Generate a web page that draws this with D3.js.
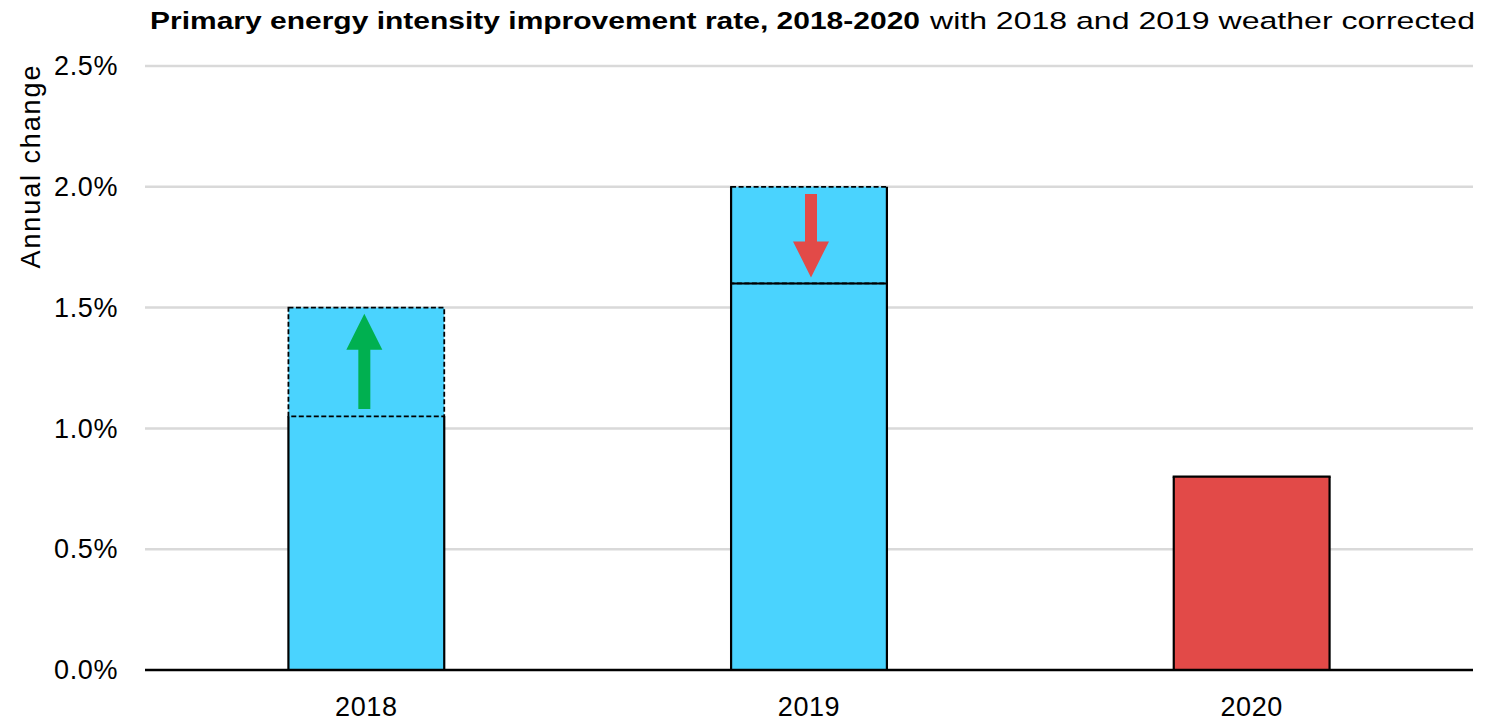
<!DOCTYPE html>
<html>
<head>
<meta charset="utf-8">
<script src="https://cdn.jsdelivr.net/npm/d3@7"></script>
<style>
  html, body { margin: 0; padding: 0; background: #fff; }
  svg { display: block; font-family: "Liberation Sans", Arial, Helvetica, sans-serif; }
</style>
</head>
<body>
<svg id="chart" width="1485" height="723"></svg>
<script>
// Annual primary energy intensity improvement (%)
const years = ["2018", "2019", "2020"];
const reportedRate = [1.05, 2.0, 0.8];        // as measured
const weatherCorrectedRate = [1.5, 1.6, null]; // 2018 and 2019 weather corrected
const barColors = ["#4AD3FE", "#4AD3FE", "#E24A48"];
const yTicks = [0, 0.5, 1.0, 1.5, 2.0, 2.5];

const W = 1485, H = 723;
const margin = { top: 66, right: 12, bottom: 53, left: 145 };

const svg = d3.select("#chart");

const x = d3.scaleBand()
  .domain(years)
  .range([margin.left, W - margin.right])
  .paddingInner(0.648)
  .paddingOuter(0.324);

const y = d3.scaleLinear()
  .domain([0, 2.5])
  .range([H - margin.bottom, margin.top]);

// gridlines
svg.append("g")
  .selectAll("line")
  .data(yTicks.filter(d => d > 0))
  .join("line")
  .attr("x1", margin.left)
  .attr("x2", W - margin.right)
  .attr("y1", d => y(d))
  .attr("y2", d => y(d))
  .attr("stroke", "#D9D9D9")
  .attr("stroke-width", 2.5);

// y tick labels
const yAxis = d3.axisLeft(y)
  .tickValues(yTicks)
  .tickFormat(d => d3.format(".1f")(d) + "%")
  .tickSize(0)
  .tickPadding(27);
const gy = svg.append("g")
  .attr("transform", `translate(${margin.left},0)`)
  .call(yAxis);
gy.select(".domain").remove();
gy.selectAll("text")
  .attr("font-size", 27)
  .attr("letter-spacing", 0.6)
  .attr("fill", "#000")
  .attr("font-family", "Liberation Sans, Arial, sans-serif");

// x tick labels
const xAxis = d3.axisBottom(x).tickSize(0).tickPadding(27);
const gx = svg.append("g")
  .attr("transform", `translate(0,${H - margin.bottom})`)
  .call(xAxis);
gx.select(".domain").remove();
gx.selectAll("text")
  .attr("font-size", 27)
  .attr("letter-spacing", 0.6)
  .attr("fill", "#000")
  .attr("font-family", "Liberation Sans, Arial, sans-serif");

const rows = years.map((yr, i) => ({
  year: yr,
  reported: reportedRate[i],
  corrected: weatherCorrectedRate[i],
  color: barColors[i]
}));

const bars = svg.append("g");

rows.forEach(r => {
  const x0 = x(r.year), bw = x.bandwidth();
  const top = r.corrected == null ? r.reported : Math.max(r.reported, r.corrected);
  const low = r.corrected == null ? r.reported : Math.min(r.reported, r.corrected);

  // fill
  bars.append("rect")
    .attr("x", x0).attr("y", y(top))
    .attr("width", bw).attr("height", y(0) - y(top))
    .attr("fill", r.color);

  // solid sides up to the reported value
  bars.append("path")
    .attr("d", `M${x0},${y(0)}V${y(r.reported)}M${x0 + bw},${y(0)}V${y(r.reported)}`)
    .attr("stroke", "#000").attr("stroke-width", 2.2).attr("fill", "none");

  if (r.corrected == null) {
    bars.append("line")
      .attr("x1", x0 - 1.1).attr("x2", x0 + bw + 1.1)
      .attr("y1", y(r.reported)).attr("y2", y(r.reported))
      .attr("stroke", "#000").attr("stroke-width", 2.2);
    return;
  }

  // solid line where the corrected value sits below the reported one
  if (r.corrected < r.reported) {
    bars.append("line")
      .attr("x1", x0).attr("x2", x0 + bw)
      .attr("y1", y(r.corrected)).attr("y2", y(r.corrected))
      .attr("stroke", "#000").attr("stroke-width", 2);
  }

  // dashed box for the weather correction
  bars.append("rect")
    .attr("x", x0).attr("y", y(top))
    .attr("width", bw).attr("height", y(low) - y(top))
    .attr("fill", "none")
    .attr("stroke", "#000").attr("stroke-width", 1.8)
    .attr("stroke-dasharray", "5,2.5");

  // arrow from reported to corrected value
  const up = r.corrected > r.reported;
  const dir = up ? 1 : -1;
  const cx = x0 + bw / 2 + (up ? -2 : 2);
  const yTail = y(r.reported + dir * 0.03);
  const yTip = y(r.corrected - dir * 0.025);
  const head = 36, headHalf = 18, shaftHalf = 6;
  const yHeadBase = yTip + (up ? head : -head);
  const pts = [
    [cx - shaftHalf, yTail], [cx - shaftHalf, yHeadBase], [cx - headHalf, yHeadBase],
    [cx, yTip], [cx + headHalf, yHeadBase], [cx + shaftHalf, yHeadBase], [cx + shaftHalf, yTail]
  ];
  bars.append("path")
    .attr("d", d3.line()(pts) + "Z")
    .attr("fill", up ? "#00B050" : "#E24A48");
});

// baseline
svg.append("line")
  .attr("x1", margin.left).attr("x2", W - margin.right)
  .attr("y1", y(0)).attr("y2", y(0))
  .attr("stroke", "#000").attr("stroke-width", 2.5);

// y axis title
svg.append("text")
  .attr("transform", `translate(40,${167}) rotate(-90)`)
  .attr("text-anchor", "middle")
  .attr("font-size", 27)
  .attr("textLength", 203)
  .attr("lengthAdjust", "spacing")
  .text("Annual change");

// title: bold lead followed by a regular qualifier
svg.append("text")
  .attr("x", 150)
  .attr("y", 29)
  .attr("font-size", 24.5)
  .attr("font-weight", "bold")
  .attr("textLength", 770)
  .attr("lengthAdjust", "spacingAndGlyphs")
  .text("Primary energy intensity improvement rate, 2018-2020");
svg.append("text")
  .attr("x", 930)
  .attr("y", 29)
  .attr("font-size", 24.5)
  .attr("textLength", 545)
  .attr("lengthAdjust", "spacingAndGlyphs")
  .text("with 2018 and 2019 weather corrected");
</script>
</body>
</html>
